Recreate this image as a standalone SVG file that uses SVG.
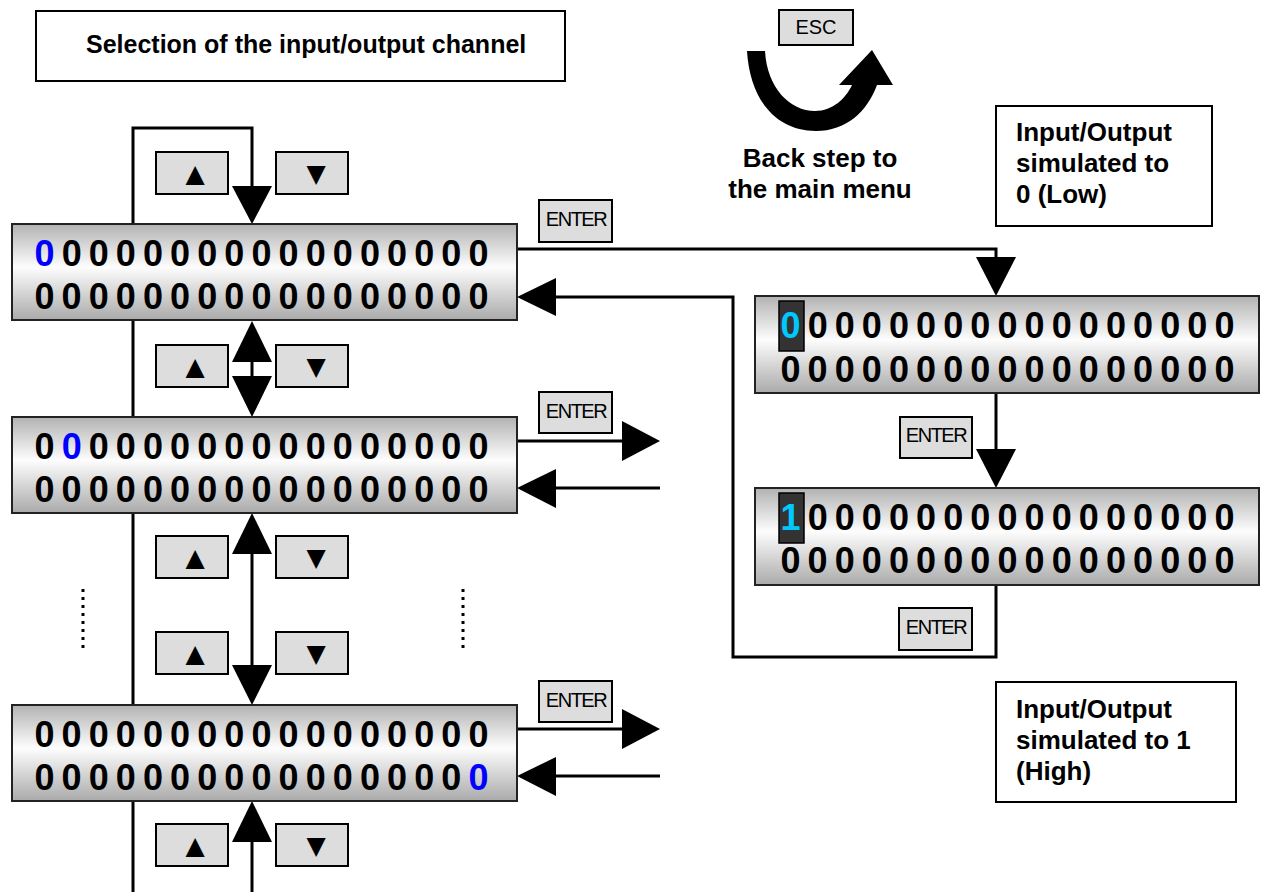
<svg xmlns="http://www.w3.org/2000/svg" width="1261" height="892" viewBox="0 0 1261 892">
<defs>
<linearGradient id="lcd" x1="0" y1="0" x2="0" y2="1">
<stop offset="0" stop-color="#b2b2b2"/>
<stop offset="0.45" stop-color="#fdfdfd"/>
<stop offset="1" stop-color="#aaaaaa"/>
</linearGradient>
<style>
.lcd{fill:url(#lcd);stroke:#222;stroke-width:2}
.dig{font-family:"Liberation Sans",Arial,sans-serif;font-weight:bold;font-size:36px;letter-spacing:7.1px;fill:#000}
.blue{fill:#0000ff}
.cyan{fill:#00c8ff}
.hl{fill:#333;stroke:#000;stroke-width:1.5}
.btn{fill:#dddddd;stroke:#000;stroke-width:2}
.btxt{font-family:"Liberation Sans",Arial,sans-serif;font-size:20px;letter-spacing:-1.5px;fill:#000;text-anchor:middle}
.sym{font-family:"DejaVu Sans",sans-serif;font-size:25px;fill:#000;text-anchor:middle}
.lbl{font-family:"Liberation Sans",Arial,sans-serif;font-weight:bold;font-size:25px;fill:#000}
.lbl2{font-family:"Liberation Sans",Arial,sans-serif;font-weight:bold;font-size:26px;fill:#000}
.box{fill:#fff;stroke:#000;stroke-width:2}
.ln{fill:none;stroke:#000;stroke-width:3}
.dot{fill:none;stroke:#000;stroke-width:3;stroke-dasharray:3 5}
.ah{fill:#000}
</style>
</defs>
<rect width="1261" height="892" fill="#fff"/>

<g id="title">
<rect class="box" x="36" y="11" width="529" height="70"/>
<text class="lbl" x="86" y="53">Selection of the input/output channel</text>
</g>

<g id="connectors">
<path class="ln" d="M133,892 V128 H252 V188"/>
<polygon class="ah" points="232,186 272,186 252,224"/>
<line class="ln" x1="252" y1="360" x2="252" y2="378"/>
<polygon class="ah" points="252,321 232,362 272,362"/>
<polygon class="ah" points="232,376 272,376 252,417"/>
<line class="ln" x1="252" y1="552" x2="252" y2="667"/>
<polygon class="ah" points="252,513 232,554 272,554"/>
<polygon class="ah" points="232,665 272,665 252,705"/>
<line class="ln" x1="252" y1="840" x2="252" y2="892"/>
<polygon class="ah" points="252,801 232,842 272,842"/>
<line class="dot" x1="83" y1="589" x2="83" y2="652"/>
<line class="dot" x1="463" y1="589" x2="463" y2="652"/>
<path class="ln" d="M517,249 H996 V260"/>
<polygon class="ah" points="976,257 1016,257 996,296"/>
<line class="ln" x1="996" y1="393" x2="996" y2="452"/>
<polygon class="ah" points="976,449 1016,449 996,488"/>
<path class="ln" d="M996,584 V657 H733 V297 H553"/>
<polygon class="ah" points="517,297 556,278 556,316"/>
<line class="ln" x1="517" y1="441" x2="624" y2="441"/>
<polygon class="ah" points="660,441 622,421 622,461"/>
<line class="ln" x1="553" y1="488" x2="660" y2="488"/>
<polygon class="ah" points="517,488 556,469 556,508"/>
<line class="ln" x1="517" y1="729" x2="624" y2="729"/>
<polygon class="ah" points="660,729 622,709 622,749"/>
<line class="ln" x1="553" y1="776" x2="660" y2="776"/>
<polygon class="ah" points="517,776 556,757 556,796"/>
<path class="ah" d="M747,51 L765,51 C767,88 790,111 815,111 C833,111 846,98 852,85 L839,85 L872,50 L893,85 L877,85 C867,112 846,131 816,131 C776,131 750,100 747,51 Z"/>
</g>

<g id="esc">
<rect class="btn" x="779" y="10" width="74" height="35"/>
<text class="btxt" x="816" y="34" style="letter-spacing:0">ESC</text>
</g>
<g id="esc-label">
<text class="lbl2" x="820" y="167" text-anchor="middle">Back step to</text>
<text class="lbl2" x="820" y="198" text-anchor="middle">the main menu</text>
</g>

<g id="box-low">
<rect class="box" x="996" y="106" width="216" height="120"/>
<text class="lbl2" x="1016" y="141">Input/Output</text>
<text class="lbl2" x="1016" y="172">simulated to</text>
<text class="lbl2" x="1016" y="203">0 (Low)</text>
</g>
<g id="box-high">
<rect class="box" x="996" y="682" width="240" height="120"/>
<text class="lbl2" x="1016" y="718">Input/Output</text>
<text class="lbl2" x="1016" y="749">simulated to 1</text>
<text class="lbl2" x="1016" y="780">(High)</text>
</g>

<g id="buttons">
<rect class="btn" x="156" y="152" width="72" height="42"/><text class="sym" x="195" y="182">▲</text>
<rect class="btn" x="276" y="152" width="72" height="42"/><text class="sym" x="316" y="182">▼</text>
<rect class="btn" x="156" y="345" width="72" height="42"/><text class="sym" x="195" y="375">▲</text>
<rect class="btn" x="276" y="345" width="72" height="42"/><text class="sym" x="316" y="375">▼</text>
<rect class="btn" x="156" y="536" width="72" height="42"/><text class="sym" x="195" y="566">▲</text>
<rect class="btn" x="276" y="536" width="72" height="42"/><text class="sym" x="316" y="566">▼</text>
<rect class="btn" x="156" y="632" width="72" height="42"/><text class="sym" x="195" y="662">▲</text>
<rect class="btn" x="276" y="632" width="72" height="42"/><text class="sym" x="316" y="662">▼</text>
<rect class="btn" x="156" y="824" width="72" height="42"/><text class="sym" x="195" y="854">▲</text>
<rect class="btn" x="276" y="824" width="72" height="42"/><text class="sym" x="316" y="854">▼</text>
</g>

<g id="enter-buttons">
<rect class="btn" x="539" y="200" width="73" height="42"/><text class="btxt" x="576" y="226">ENTER</text>
<rect class="btn" x="539" y="392" width="73" height="41"/><text class="btxt" x="576" y="418">ENTER</text>
<rect class="btn" x="539" y="681" width="73" height="41"/><text class="btxt" x="576" y="707">ENTER</text>
<rect class="btn" x="900" y="417" width="72" height="41"/><text class="btxt" x="936" y="442">ENTER</text>
<rect class="btn" x="899" y="608" width="73" height="42"/><text class="btxt" x="936" y="634">ENTER</text>
</g>

<g id="display1">
<rect class="lcd" x="12" y="224" width="505" height="96"/>
<text class="dig" x="34.5" y="266"><tspan class="blue">0</tspan>0000000000000000</text>
<text class="dig" x="34.5" y="309">00000000000000000</text>
</g>
<g id="display2">
<rect class="lcd" x="12" y="417" width="505" height="96"/>
<text class="dig" x="34.5" y="459">0<tspan class="blue">0</tspan>000000000000000</text>
<text class="dig" x="34.5" y="502">00000000000000000</text>
</g>
<g id="display3">
<rect class="lcd" x="12" y="705" width="505" height="96"/>
<text class="dig" x="34.5" y="747">00000000000000000</text>
<text class="dig" x="34.5" y="790">0000000000000000<tspan class="blue">0</tspan></text>
</g>
<g id="displayA">
<rect class="lcd" x="755" y="296" width="504" height="97"/>
<rect class="hl" x="779" y="301" width="25" height="50"/>
<text class="dig" x="780.5" y="338"><tspan class="cyan">0</tspan>0000000000000000</text>
<text class="dig" x="780.5" y="382">00000000000000000</text>
</g>
<g id="displayB">
<rect class="lcd" x="755" y="488" width="504" height="97"/>
<rect class="hl" x="779" y="493" width="25" height="50"/>
<text class="dig" x="780.5" y="530"><tspan class="cyan">1</tspan>0000000000000000</text>
<text class="dig" x="780.5" y="573">00000000000000000</text>
</g>
</svg>
